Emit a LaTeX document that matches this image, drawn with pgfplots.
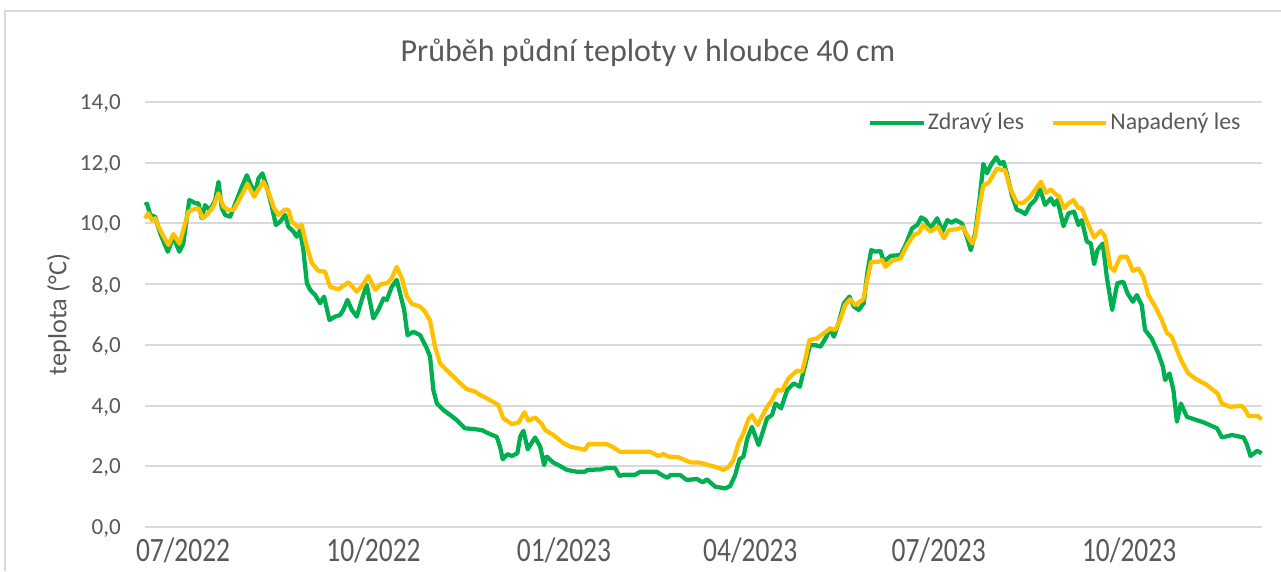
\documentclass[border=0pt]{standalone}
\usepackage{fontspec}
\setmainfont{Carlito}
\usepackage{graphicx}
\usepackage{pgfplots}
\pgfplotsset{compat=1.18}
\usepackage{pgfplotstable}
\definecolor{zgreen}{HTML}{00B050}
\definecolor{nyellow}{HTML}{FFC000}
\definecolor{txt}{HTML}{595959}
\definecolor{gridc}{HTML}{D9D9D9}

% x = days since 1 July 2022, y = soil temperature (deg C)
\pgfplotstableread{
d v
-18.4 10.60
-17.4 10.65
-15.9 10.28
-13.5 10.22
-11.1 9.68
-9.7 9.45
-7.4 9.07
-4.7 9.56
-1.8 9.07
0.1 9.34
3.0 10.77
5.8 10.67
7.4 10.66
9.0 10.17
10.6 10.60
13.0 10.44
15.5 10.77
17.1 11.37
18.7 10.50
20.3 10.28
22.7 10.22
25.9 10.77
28.4 11.21
30.8 11.59
32.4 11.32
34.8 10.99
36.4 11.48
38.3 11.65
40.4 11.21
42.9 10.55
44.8 9.95
46.9 10.06
49.3 10.28
50.9 9.89
53.3 9.73
54.9 9.56
56.5 9.78
58.1 9.12
59.8 8.03
61.4 7.81
63.8 7.64
66.2 7.37
68.1 7.59
70.7 6.82
73.4 6.93
75.8 6.98
77.4 7.15
79.4 7.48
81.5 7.15
83.9 6.93
86.3 7.48
88.7 7.97
91.9 6.87
94.3 7.15
96.8 7.53
98.4 7.48
100.8 7.91
103.2 8.14
105.2 7.59
106.8 7.15
108.4 6.32
111.3 6.43
114.5 6.32
117.7 5.89
119.3 5.61
120.9 4.51
122.6 4.07
125.8 3.85
129.0 3.69
132.2 3.52
136.2 3.25
140.2 3.23
144.3 3.19
148.3 3.06
151.5 2.97
153.1 2.65
154.4 2.23
156.7 2.40
158.8 2.34
161.5 2.43
162.8 2.97
164.4 3.17
166.5 2.56
170.0 2.95
172.5 2.65
174.4 2.04
175.7 2.32
178.9 2.12
182.1 2.01
185.4 1.88
190.2 1.82
194.2 1.82
195.3 1.88
202.3 1.90
203.9 1.94
208.7 1.94
210.8 1.68
212.7 1.72
218.4 1.72
220.8 1.82
228.8 1.82
231.3 1.71
234.0 1.62
235.3 1.71
240.1 1.71
243.3 1.55
248.2 1.58
251.1 1.47
253.0 1.57
257.0 1.33
261.9 1.27
264.3 1.35
266.7 1.71
268.8 2.23
270.7 2.32
272.5 2.90
274.8 3.30
278.0 2.70
282.1 3.58
284.5 3.69
286.2 4.07
288.9 3.91
291.8 4.51
295.0 4.73
297.9 4.62
299.9 5.17
302.8 5.99
305.5 5.99
307.9 5.94
310.8 6.27
312.4 6.54
314.4 6.27
316.8 6.76
319.2 7.37
321.9 7.59
324.0 7.26
326.4 7.15
328.8 7.37
330.5 8.36
332.4 9.12
334.5 9.07
336.9 9.09
338.5 8.74
341.8 8.93
346.6 8.96
349.0 9.29
352.2 9.84
354.7 9.95
356.6 10.20
358.7 10.11
361.1 9.84
364.3 10.17
366.8 9.73
369.2 10.11
371.1 10.02
373.2 10.11
376.2 10.00
378.6 9.56
380.5 9.12
382.6 9.67
384.7 10.77
386.6 11.96
388.3 11.65
390.2 11.92
392.8 12.18
394.7 11.96
396.3 12.03
397.9 11.65
400.3 10.94
402.8 10.44
404.3 10.42
406.8 10.31
409.2 10.61
411.6 10.77
414.0 11.12
416.4 10.61
419.2 10.83
420.8 10.61
422.4 10.77
425.3 9.91
427.7 10.33
430.4 10.39
432.5 9.95
434.1 10.11
436.6 9.40
438.5 9.34
440.1 8.66
441.7 9.12
444.3 9.34
446.2 8.24
448.8 7.15
451.3 8.03
454.2 8.08
456.2 7.70
458.8 7.42
460.7 7.64
463.1 7.31
464.7 6.49
467.9 6.21
471.1 5.72
473.3 5.28
474.4 4.84
476.5 5.06
478.4 4.51
480.1 3.47
482.0 4.07
484.9 3.63
489.7 3.52
492.9 3.45
499.5 3.25
501.8 2.95
506.7 3.03
512.3 2.95
514.0 2.70
515.6 2.34
518.9 2.51
521.0 2.43
}\zdravy

\pgfplotstableread{
d v
-18.4 10.17
-16.8 10.33
-15.1 10.11
-13.5 10.17
-11.1 9.78
-7.1 9.29
-4.7 9.65
-1.8 9.34
0.1 9.78
2.6 10.39
5.0 10.46
7.4 10.50
9.5 10.17
12.2 10.33
14.6 10.55
17.1 10.99
19.5 10.55
21.9 10.44
24.3 10.44
26.7 10.72
31.1 11.30
34.3 10.88
36.4 11.12
38.8 11.37
41.2 11.04
43.6 10.55
46.0 10.28
49.3 10.46
50.9 10.44
52.5 10.06
55.7 9.87
57.3 9.95
59.4 9.34
62.2 8.69
65.4 8.44
68.6 8.41
71.0 7.91
75.0 7.83
79.9 8.06
83.9 7.75
86.8 7.97
89.5 8.27
92.8 7.81
95.5 8.00
98.4 8.03
100.8 8.19
103.2 8.57
105.7 8.19
108.1 7.59
110.5 7.35
114.5 7.26
116.9 7.09
119.3 6.80
121.7 5.94
124.1 5.39
129.0 5.06
133.0 4.79
137.0 4.54
141.1 4.46
143.5 4.35
147.5 4.21
152.3 4.02
154.7 3.58
158.8 3.39
162.0 3.44
164.9 3.78
166.8 3.50
170.0 3.61
173.3 3.39
174.9 3.19
178.9 3.03
183.7 2.76
187.0 2.65
194.2 2.54
195.8 2.73
204.7 2.73
207.9 2.62
211.1 2.48
225.6 2.48
229.6 2.34
232.0 2.40
234.4 2.32
239.3 2.30
244.9 2.13
249.8 2.12
253.8 2.04
257.8 1.97
261.0 1.88
263.4 1.97
265.9 2.21
268.3 2.76
270.7 3.09
273.1 3.55
274.8 3.69
277.5 3.36
282.1 3.96
284.5 4.18
286.9 4.51
289.3 4.49
292.5 4.90
296.6 5.15
299.0 5.12
300.5 5.50
302.6 6.16
306.2 6.21
309.4 6.38
312.6 6.54
315.0 6.49
317.4 6.82
319.8 7.31
322.2 7.50
324.6 7.31
328.6 7.50
330.5 8.14
332.4 8.74
336.1 8.74
337.7 8.79
339.3 8.57
342.5 8.77
346.6 8.85
349.8 9.29
353.0 9.62
355.4 9.69
357.5 9.95
361.1 9.73
364.6 9.89
367.5 9.51
369.9 9.78
373.9 9.81
376.4 9.89
378.8 9.62
381.2 9.34
382.6 9.56
384.7 10.55
386.6 11.26
389.1 11.34
390.7 11.52
393.1 11.81
395.5 11.76
397.1 11.76
399.5 11.16
402.8 10.68
406.0 10.68
409.2 10.88
412.1 11.16
414.4 11.37
416.8 11.01
419.2 11.12
421.3 10.97
423.3 10.88
425.6 10.50
427.7 10.66
430.1 10.77
432.5 10.50
434.1 10.50
436.6 10.06
440.1 9.54
443.4 9.76
445.4 9.56
447.9 8.57
449.8 8.44
452.7 8.90
456.0 8.90
458.8 8.44
461.5 8.52
463.9 8.24
466.3 7.64
469.6 7.26
472.8 6.82
475.2 6.40
477.6 6.27
480.1 5.83
482.5 5.44
485.6 5.06
489.7 4.86
494.5 4.68
499.7 4.40
501.8 4.07
505.8 3.96
511.5 3.99
513.2 3.85
514.6 3.66
518.9 3.66
521.0 3.55
}\napadeny

\begin{document}
\begin{tikzpicture}
\begin{axis}[
  scale only axis, width=837.75pt, height=318.75pt,
  xmin=-18.4, xmax=521.2, ymin=0, ymax=14,
  clip=false,
  ytick={0,2,4,6,8,10,12,14},
  yticklabels={{0,0},{2,0},{4,0},{6,0},{8,0},{10,0},{12,0},{14,0}},
  xtick={0,92,184,274,365,457},
  xticklabels={\scalebox{1.03}[1.28]{07/2022},\scalebox{1.03}[1.28]{10/2022},\scalebox{1.03}[1.28]{01/2023},\scalebox{1.03}[1.28]{04/2023},\scalebox{1.03}[1.28]{07/2023},\scalebox{1.03}[1.28]{10/2023}},
  ymajorgrids, major grid style={gridc, line width=1.4pt},
  axis line style={draw=none}, major tick length=0pt,
  yticklabel style={font=\fontsize{17.3}{20}\selectfont, text=txt, anchor=east, inner sep=0pt, xshift=-18pt, text depth=0pt},
  xticklabel style={font=\fontsize{20}{24}\selectfont, text=txt, anchor=north, inner sep=0pt, yshift=-8pt},
  ylabel={teplota (°C)},
  ylabel style={font=\fontsize{19.7}{23}\selectfont, text=txt, at={(axis description cs:-0.077,0.5)}, anchor=center},
  legend style={at={(0.6473,0.9513)}, anchor=west, draw=none, fill=none, inner sep=0pt,
    font=\fontsize{17.9}{20}\selectfont, text=txt, nodes={inner sep=1.5pt},
    /tikz/every even column/.append style={column sep=18.5pt}},
  legend columns=2, legend cell align=left,
  legend image code/.code={\draw[#1] (0pt,0pt) -- (40pt,0pt);},
]
\addplot[zgreen, line width=3.2pt, line join=round, no marks] table[x=d,y=v]{\zdravy};
\addlegendentry{Zdravý les}
\addplot[nyellow, line width=3.2pt, line join=round, no marks] table[x=d,y=v]{\napadeny};
\addlegendentry{Napadený les}
\end{axis}
\node[anchor=base, text=txt, font=\fontsize{24}{28}\selectfont] at (377.25pt,348.75pt) {Průběh půdní teploty v hloubce 40 cm};
\draw[gridc, line width=1.5pt] (-105pt,-33pt) -- (-105pt,387pt) -- (852pt,387pt);
\pgfresetboundingbox
\path[use as bounding box] (-108.75pt,-33pt) rectangle (852pt,395.25pt);
\end{tikzpicture}
\end{document}
